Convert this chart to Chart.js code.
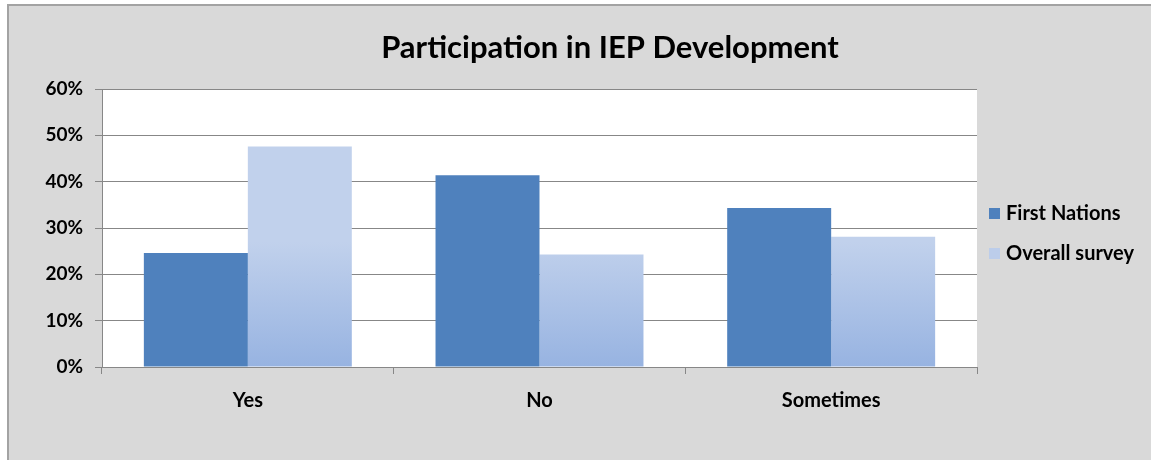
<!DOCTYPE html>
<html>
<head>
<meta charset="utf-8">
<script src="https://cdn.jsdelivr.net/npm/chart.js@4/dist/chart.umd.min.js"></script>
<style>
  html, body { margin: 0; padding: 0; background: #ffffff; }
  #wrap { position: relative; width: 1151px; height: 460px; overflow: hidden; }
  #frame { position: absolute; left: 7px; top: 4px; width: 1144px; height: 456px; box-sizing: border-box;
           background: #d9d9d9; border-left: 2px solid #a3a3a3; border-top: 2px solid #a3a3a3; }
  #c { position: absolute; left: 0; top: 0; }
</style>
</head>
<body>
<div id="wrap">
  <div id="frame"></div>
  <canvas id="c" width="1151" height="460"></canvas>
</div>
<script>
// ---- data ----
const chartTitle = 'Participation in IEP Development';
const categories = ['Yes', 'No', 'Sometimes'];
const seriesNames = ['First Nations', 'Overall survey'];
const firstNations = [24.6, 41.4, 34.3];
const overallSurvey = [47.6, 24.3, 28.1];
const yMax = 60;
const yStep = 10;
const tickSuffix = '%';

// ---- styles ----
const FONT = 'Lato';
const darkBlue = '#4f81bd';
const lightTop = '#c1d1ec';
const lightBottom = '#97b3e1';
const gridColor = '#878787';

function lightGradient(ctx) {
  const chart = ctx.chart;
  const area = chart.chartArea;
  if (!area) return lightTop;
  const h = area.bottom - area.top;
  const g = chart.ctx.createLinearGradient(0, area.bottom - h * 0.45, 0, area.bottom);
  g.addColorStop(0, lightTop);
  g.addColorStop(1, lightBottom);
  return g;
}

const bgPlugin = {
  id: 'plotBg',
  beforeDraw(chart) {
    const a = chart.chartArea;
    const c = chart.ctx;
    c.save();
    c.fillStyle = '#ffffff';
    c.fillRect(a.left, a.top, a.right - a.left, a.bottom - a.top);
    c.restore();
  }
};

const titlePlugin = {
  id: 'excelTitle',
  afterDraw(chart) {
    const c = chart.ctx;
    c.save();
    c.font = 'bold 31px ' + FONT;
    c.fillStyle = '#000000';
    c.textAlign = 'center';
    c.textBaseline = 'alphabetic';
    c.fillText(chartTitle, 610, 58);
    c.restore();
  }
};

const legendPlugin = {
  id: 'excelLegend',
  afterDraw(chart) {
    const c = chart.ctx;
    const a = chart.chartArea;
    c.save();
    c.font = 'bold 20px ' + FONT;
    c.textBaseline = 'middle';
    c.textAlign = 'left';
    const swatches = [darkBlue, '#bccdea'];
    chart.data.datasets.forEach((ds, i) => {
      const cy = 214 + i * 40;
      const x0 = a.right + 12;
      c.fillStyle = swatches[i];
      c.fillRect(x0, cy - 6, 11, 11);
      c.fillStyle = '#000000';
      c.fillText(ds.label, x0 + 17, cy);
    });
    c.restore();
  }
};

new Chart(document.getElementById('c'), {
  type: 'bar',
  data: {
    labels: categories,
    datasets: [
      { label: seriesNames[0], data: firstNations, backgroundColor: darkBlue, borderWidth: 0 },
      { label: seriesNames[1], data: overallSurvey, backgroundColor: lightGradient, borderWidth: 0 }
    ]
  },
  options: {
    responsive: false,
    devicePixelRatio: 1,
    animation: false,
    layout: { padding: { top: 89, right: 174, bottom: 0, left: 0 } },
    datasets: { bar: { categoryPercentage: 0.713, barPercentage: 1.0 } },
    plugins: {
      legend: { display: false },
      title: { display: false },
      tooltip: { enabled: false }
    },
    scales: {
      x: {
        grid: { display: true, drawOnChartArea: false, drawTicks: true, tickLength: 7, color: gridColor, offset: true },
        border: { display: true, color: gridColor, width: 1 },
        ticks: { color: '#000000', font: { family: FONT, size: 20, weight: 'bold' }, padding: 15, maxRotation: 0 },
        afterFit(s) { s.height = 93; }
      },
      y: {
        min: 0, max: yMax,
        grid: { color: gridColor, lineWidth: 1, tickLength: 7, drawTicks: true },
        border: { display: true, color: gridColor, width: 1 },
        ticks: { stepSize: yStep, color: '#000000', font: { family: FONT, size: 19, weight: 'bold' }, padding: 12,
                 callback: (v) => v + tickSuffix },
        afterFit(s) { s.width = 102; }
      }
    }
  },
  plugins: [bgPlugin, titlePlugin, legendPlugin]
});
</script>
</body>
</html>
